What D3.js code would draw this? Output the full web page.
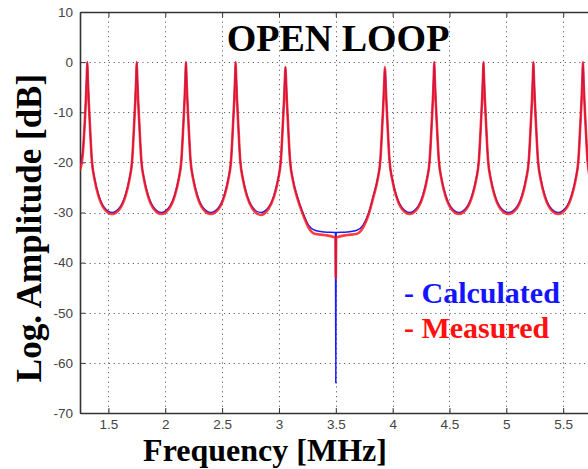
<!DOCTYPE html>
<html><head><meta charset="utf-8">
<script src="https://cdn.jsdelivr.net/npm/d3@7"></script>
<style>body{margin:0;background:#fff}svg{display:block}</style>
</head><body>
<svg id="chart" width="588" height="469"></svg>
<script>
// Frequency samples [MHz]
const freq = [
 1.250,1.274,1.292,1.302,1.309,1.314,
 1.319,1.326,1.336,1.354,1.379,1.414,1.464,1.532,
 1.599,1.649,1.684,1.709,1.727,1.737,1.744,1.749,
 1.754,1.761,1.771,1.789,1.814,1.849,1.899,1.965,
 2.032,2.082,2.117,2.142,2.160,2.170,2.177,2.182,
 2.187,2.194,2.204,2.222,2.247,2.282,2.332,2.400,
 2.469,2.519,2.554,2.579,2.597,2.607,2.614,2.619,
 2.624,2.631,2.641,2.659,2.684,2.719,2.769,2.838,
 2.907,2.957,2.992,3.017,3.035,3.045,3.052,3.057,
 3.062,3.069,3.079,3.097,3.122,3.157,3.210,3.260,3.320,3.400,3.497,3.500,3.503,3.600,3.680,3.740,3.790,
 3.832,3.867,3.892,3.910,3.920,3.927,3.932,
 3.937,3.944,3.954,3.972,3.997,4.032,4.082,4.149,
 4.216,4.266,4.301,4.326,4.344,4.354,4.361,4.366,
 4.371,4.378,4.388,4.406,4.431,4.466,4.516,4.583,
 4.649,4.699,4.734,4.759,4.777,4.787,4.794,4.799,
 4.804,4.811,4.821,4.839,4.864,4.899,4.949,5.019,
 5.088,5.138,5.173,5.198,5.216,5.226,5.233,5.238,
 5.243,5.250,5.260,5.278,5.303,5.338,5.388,5.456,
 5.524,5.574,5.609,5.634,5.652,5.662,5.669,5.674,
 5.679,5.686,5.696,5.714,5.739,5.750
];
// Calculated amplitude [dB]
const calculated = [
 -20.5,-18,-12,-7,-3,0,
 -3,-7,-12,-19.5,-23.3,-26.5,-29,-30,
 -29,-26.5,-23.3,-19.5,-12,-7,-3,0,
 -3,-7,-12,-19.5,-23.3,-26.5,-29,-30,
 -29,-26.5,-23.3,-19.5,-12,-7,-3,0,
 -3,-7,-12,-19.5,-23.3,-26.5,-29,-30,
 -29,-26.5,-23.3,-19.5,-12,-7,-3,0,
 -3,-7,-12,-19.5,-23.3,-26.5,-29,-30,
 -29,-26.5,-23.3,-19.5,-12,-7,-3.5,-1,
 -3.5,-7,-12,-19.5,-23.3,-26.5,-30,-32.5,-33.6,-33.9,-34,-64,-34,-33.9,-33.6,-32.5,-30,
 -26.5,-23.3,-19.5,-12,-7,-3.5,-1.3,
 -3,-7,-12,-19.5,-23.3,-26.5,-29,-30,
 -29,-26.5,-23.3,-19.5,-12,-7,-3,0,
 -3,-7,-12,-19.5,-23.3,-26.5,-29,-30,
 -29,-26.5,-23.3,-19.5,-12,-7,-3,0,
 -3,-7,-12,-19.5,-23.3,-26.5,-29,-30,
 -29,-26.5,-23.3,-19.5,-12,-7,-3,0,
 -3,-7,-12,-19.5,-23.3,-26.5,-29,-30,
 -29,-26.5,-23.3,-19.5,-12,-7,-3,0,
 -3,-7,-12,-19.5,-23.3,-24
];
// Measured amplitude [dB]
const measured = [
 -21.5,-18.5,-12,-7.5,-3.5,0,
 -3.5,-7.5,-12,-19.5,-23.5,-26.8,-29.3,-30.3,
 -29.3,-26.8,-23.5,-19.5,-12,-7.5,-3.5,0,
 -3.5,-7.5,-12,-19.5,-23.5,-26.8,-29.3,-30.3,
 -29.3,-26.8,-23.5,-19.5,-12,-7.5,-3.5,0,
 -3.5,-7.5,-12,-19.5,-23.5,-26.8,-29.3,-30.3,
 -29.3,-26.8,-23.5,-19.5,-12,-7.5,-3.5,0,
 -3.5,-7.5,-12,-19.5,-23.5,-26.8,-29.3,-30.5,
 -29.3,-26.8,-23.5,-19.5,-12,-7.5,-3.5,-1,
 -3.5,-7.5,-12,-19.5,-23.5,-26.8,-30.3,-33,-34.3,-34.5,-35,-43,-35,-34.5,-34.3,-33,-30.3,
 -26.8,-23.5,-19.5,-12,-7.5,-3.5,-1,
 -3.5,-7.5,-12,-19.5,-23.5,-26.8,-29.3,-30.3,
 -29.3,-26.8,-23.5,-19.5,-12,-7.5,-3.5,0,
 -3.5,-7.5,-12,-19.5,-23.5,-26.8,-29.3,-30.3,
 -29.3,-26.8,-23.5,-19.5,-12,-7.5,-3.5,0,
 -3.5,-7.5,-12,-19.5,-23.5,-26.8,-29.3,-30.3,
 -29.3,-26.8,-23.5,-19.5,-12,-7.5,-3.5,0,
 -3.5,-7.5,-12,-19.5,-23.5,-26.8,-29.3,-30.3,
 -29.3,-26.8,-23.5,-19.5,-12,-7.5,-3.5,0,
 -3.5,-7.5,-12,-19.5,-23.5,-24.5
];
const xTicks = [1.5,2,2.5,3,3.5,4,4.5,5,5.5];
const yTicks = [10,0,-10,-20,-30,-40,-50,-60,-70];
const title = "OPEN LOOP";
const xLabel = "Frequency [MHz]";
const yLabel = "Log. Amplitude [dB]";
const legendLabels = ["- Calculated","- Measured"];

const svg = d3.select("#chart");
const L = 80, T = 12, B = 413, R = 591.6;
const x = d3.scaleLinear().domain([1.25,5.75]).range([L,R]);
const y = d3.scaleLinear().domain([-70,10]).range([B,T]);

// grid
const grid = svg.append("g").attr("stroke","#666").attr("stroke-width",1).attr("stroke-dasharray","1.2,3.6");
grid.selectAll("line.v").data(xTicks).join("line").attr("class","v")
  .attr("x1",d=>Math.round(x(d))+0.5).attr("x2",d=>Math.round(x(d))+0.5).attr("y1",T).attr("y2",B);
grid.selectAll("line.h").data(yTicks.slice(1,-1)).join("line").attr("class","h")
  .attr("y1",d=>Math.round(y(d))+0.5).attr("y2",d=>Math.round(y(d))+0.5).attr("x1",L).attr("x2",R);

// axes
const axFont = "Liberation Sans, Arial, sans-serif";
const xAxis = svg.append("g").attr("transform",`translate(0,${B})`)
  .call(d3.axisBottom(x).tickValues(xTicks).tickSizeInner(-5).tickSizeOuter(0).tickPadding(6).tickFormat(d3.format("")));
const xTop = svg.append("g").attr("transform",`translate(0,${T})`)
  .call(d3.axisTop(x).tickValues(xTicks).tickSizeInner(-5).tickSizeOuter(0).tickFormat(""));
const yAxis = svg.append("g").attr("transform",`translate(${L},0)`)
  .call(d3.axisLeft(y).tickValues(yTicks).tickSizeInner(-5).tickSizeOuter(0).tickPadding(7).tickFormat(d=>String(d).replace("−","-")));
[xAxis,xTop,yAxis].forEach(g=>{
  g.selectAll("path.domain").attr("stroke","#333").attr("stroke-width",1.6);
  g.selectAll(".tick line").attr("stroke","#333").attr("stroke-width",1);
  g.selectAll(".tick text").attr("fill","#444").attr("font-family",axFont).attr("font-size",13.5);
});

// clip
svg.append("clipPath").attr("id","clip").append("rect").attr("x",L).attr("y",T).attr("width",R-L).attr("height",B-T);

const line = vals => d3.line().x((d,i)=>x(freq[i])).y(d=>y(d)).curve(d3.curveMonotoneX)(vals);
const plot = svg.append("g").attr("clip-path","url(#clip)");
plot.append("path").attr("d",line(calculated)).attr("fill","none").attr("stroke","#1a1aff").attr("stroke-width",1.5);
plot.append("path").attr("d",line(measured)).attr("fill","none").attr("stroke","#ff1414").attr("stroke-width",2.6).attr("stroke-opacity",0.82);

// title
svg.append("text").attr("x",338).attr("y",51).attr("text-anchor","middle")
  .attr("font-family","Liberation Serif, Times New Roman, serif").attr("font-weight","bold").attr("font-size",38)
  .attr("fill","#000").text(title);

// axis labels
svg.append("text").attr("x",265).attr("y",461).attr("text-anchor","middle")
  .attr("font-family","Liberation Serif, serif").attr("font-weight","bold").attr("font-size",32).attr("fill","#000").text(xLabel);
svg.append("text").attr("transform","translate(41,228) rotate(-90)").attr("text-anchor","middle")
  .attr("font-family","Liberation Serif, serif").attr("font-weight","bold").attr("font-size",35).attr("fill","#000").text(yLabel);

// legend
const legColors = ["#1414ff","#ff1010"];
svg.selectAll("text.leg").data(legendLabels).join("text").attr("class","leg")
  .attr("x",404).attr("y",(d,i)=>303+i*35)
  .attr("font-family","Liberation Serif, Times New Roman, serif").attr("font-weight","bold").attr("font-size",30)
  .attr("fill",(d,i)=>legColors[i]).text(d=>d);
</script>
</body></html>
